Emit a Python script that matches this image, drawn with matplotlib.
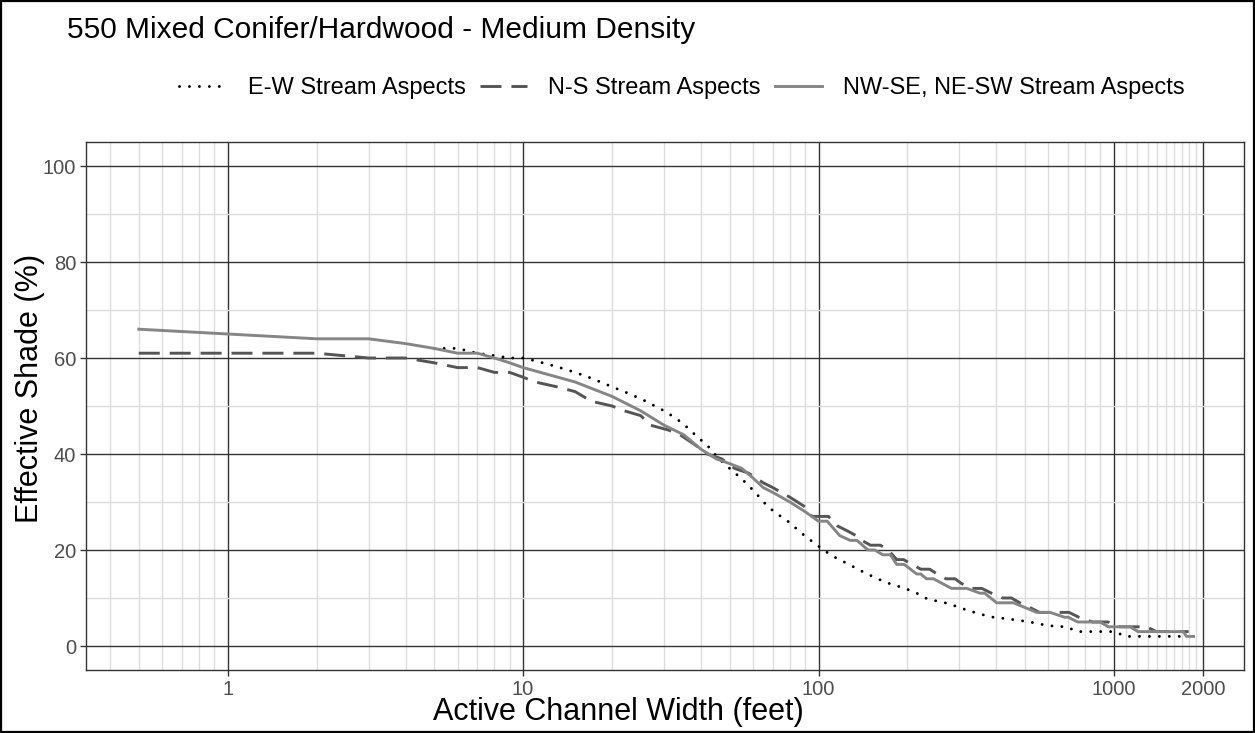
import matplotlib
matplotlib.use("Agg")
import matplotlib.pyplot as plt
from matplotlib.lines import Line2D
from matplotlib.patches import Rectangle

plt.rcParams['font.family'] = ['Liberation Sans', 'DejaVu Sans']

title = "550 Mixed Conifer/Hardwood - Medium Density"
x_label = "Active Channel Width (feet)"
y_label = "Effective Shade (%)"
series_names = ["E-W Stream Aspects", "N-S Stream Aspects", "NW-SE, NE-SW Stream Aspects"]

x_major = [1, 10, 100, 1000, 2000]
x_major_labels = ["1", "10", "100", "1000", "2000"]
x_minor = [0.4, 0.5, 0.6, 0.7, 0.8, 0.9, 2, 3, 4, 5, 6, 7, 8, 9,
           20, 30, 40, 50, 60, 70, 80, 90, 200, 300, 400, 500, 600, 700, 800, 900,
           1100, 1200, 1300, 1400, 1500, 1600, 1700, 1800, 1900]
y_major = [0, 20, 40, 60, 80, 100]
y_minor = [10, 30, 50, 70, 90]

ew_width = [5, 6, 7, 8, 9, 10, 11, 13, 15, 17, 20, 23, 26, 30, 33, 36, 39, 42, 46, 50, 55,
            60, 67, 72, 78, 90, 100, 105, 115, 124, 135, 145, 160, 170, 185, 200, 215, 232,
            250, 277, 300, 325, 355, 390, 430, 470, 520, 570, 630, 690, 720, 755, 1000, 1050,
            1090, 1700]
ew_shade = [62, 62, 61, 60.5, 60, 60, 59.4, 58.2, 57, 55.8, 54, 52.5, 51, 49, 47.4, 45.5,
            43.5, 41.8, 39, 37, 34.8, 32.5, 29.2, 27.6, 26.2, 22.9, 20.8, 19.8, 18.3, 17.3,
            16.1, 15.1, 13.9, 13.2, 12.5, 11.8, 11, 9.9, 9.4, 8.8, 8, 7.3, 6.6, 6, 5.7, 5.4,
            5, 4.5, 4.1, 4, 3.5, 3, 3, 2.5, 2, 2]

ns_width = [0.5, 1, 2, 3, 4, 5, 6, 7, 8, 9, 10, 11, 13, 15, 17, 20, 22, 25, 27, 31, 34, 38,
            42, 47, 52, 58, 65, 70, 80, 90, 95, 108, 116, 125, 134, 140, 150, 162, 172, 184,
            194, 207, 222, 238, 252, 270, 290, 305, 330, 357, 385, 420, 450, 480, 520, 560,
            590, 705, 760, 846, 955, 1050, 1210, 1290, 1390, 1790]
ns_shade = [61, 61, 61, 60, 60, 59, 58, 58, 57, 57, 56, 55, 54, 53, 51, 50, 49, 48, 46, 45,
            44, 42, 40, 39, 37, 36, 34, 33, 31, 29, 27, 27, 25, 24, 23, 22, 21, 21, 20, 18,
            18, 17, 16, 16, 15, 14, 14, 13, 12, 12, 11, 10, 10, 9, 8, 7, 7, 7, 6, 5, 5, 4,
            4, 4, 3, 3]

nw_width = [0.5, 1, 2, 3, 4, 5, 6, 7, 8, 9, 10, 15, 20, 25, 30, 35, 40, 45, 50, 55, 60, 65,
            70, 80, 90, 100, 107, 118, 128, 135, 147, 155, 165, 175, 184, 195, 215, 222, 232,
            245, 282, 318, 352, 365, 401, 457, 548, 608, 680, 700, 754, 898, 958, 1135, 1206,
            1719, 1760, 1860]
nw_shade = [66, 65, 64, 64, 63, 62, 61, 61, 60, 59, 58, 55, 52, 49, 46, 44, 41, 39, 38, 37,
            35, 33, 32, 30, 28, 26, 26, 23, 22, 22, 20, 20, 19, 19, 17, 17, 15, 15, 14, 14,
            12, 12, 11, 11, 9, 9, 7, 7, 6, 6, 5, 5, 4, 4, 3, 3, 2, 2]

W, H = 1255, 733
fig = plt.figure(figsize=(W / 100, H / 100), dpi=100)
fig.patches.append(Rectangle((0.001, 0.001), 0.998, 0.997, transform=fig.transFigure,
                             fill=False, edgecolor="black", linewidth=1.6))

ax = fig.add_axes([86 / W, 1 - 670 / H, (1244 - 86) / W, (670 - 142) / H])
ax.set_xscale("log")
ax.set_xlim(0.3314, 2756)
ax.set_ylim(-5, 105)

ax.set_xticks(x_major)
ax.set_xticklabels(x_major_labels)
ax.set_xticks(x_minor, minor=True)
ax.set_xticklabels([], minor=True)
ax.set_yticks(y_major)
ax.set_yticks(y_minor, minor=True)
ax.set_axisbelow(True)
ax.grid(which="minor", color="#dcdcdc", linewidth=1.0)
ax.grid(which="major", color="#333333", linewidth=1.0)
ax.tick_params(which="minor", length=0)
ax.tick_params(which="major", length=4, width=1, color="#333333",
               labelcolor="#4d4d4d", labelsize=14.5, pad=3)
for s in ax.spines.values():
    s.set_color("#333333")
    s.set_linewidth(1.0)

lw = 2.1
ew_style = dict(color="black", linewidth=lw, linestyle=(0, (0.01, 3.4)),
                dash_capstyle="round")
ns_style = dict(color="#555555", linewidth=lw, linestyle=(0, (7.2, 3.4)))
nw_style = dict(color="#858585", linewidth=lw, linestyle="-")

ax.plot(ew_width, ew_shade, **ew_style)
ax.plot(ns_width, ns_shade, **ns_style)
ax.plot(nw_width, nw_shade, **nw_style)

fig.text(618 / W, 1 - 712 / H, x_label, fontsize=22, ha="center", va="center")
fig.text(30 / W, 1 - 388 / H, y_label, fontsize=22, ha="center", va="center",
         rotation=90)

fig.text(67 / W, 1 - 30 / H, title, fontsize=21.5, va="center", ha="left")

handles = [Line2D([], [], **ew_style), Line2D([], [], **ns_style), Line2D([], [], **nw_style)]
fig.legend(handles, series_names, loc="center", bbox_to_anchor=(682 / W, 1 - 88 / H),
           ncol=3, frameon=False, fontsize=17, handlelength=2.0, handletextpad=0.9,
           columnspacing=0.6)

fig.savefig("out.png", dpi=100)
